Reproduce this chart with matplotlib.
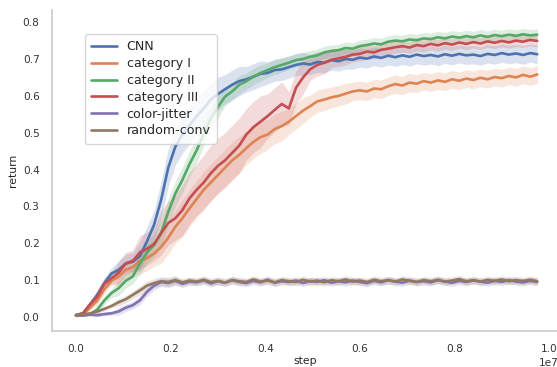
import numpy as np
import matplotlib
matplotlib.use("Agg")
import matplotlib.pyplot as plt
import seaborn as sns

sns.set_theme(style="white")
plt.rcParams['font.family'] = ['DejaVu Sans']

# environment steps (x grid, step 1.5e5)
steps = np.linspace(0, 9.75e6, 66)

cnn = [0.005, 0.010, 0.035, 0.060, 0.092, 0.118, 0.128, 0.145, 0.150, 0.165,
       0.205, 0.250, 0.318, 0.405, 0.462, 0.495, 0.520, 0.545, 0.566, 0.590,
       0.605, 0.618, 0.630, 0.640, 0.645, 0.652, 0.660, 0.662, 0.670, 0.672,
       0.678, 0.684, 0.688, 0.685, 0.692, 0.690, 0.697, 0.694, 0.700, 0.698,
       0.704, 0.701, 0.707, 0.703, 0.709, 0.705, 0.710, 0.706, 0.712, 0.708,
       0.711, 0.707, 0.713, 0.709, 0.714, 0.710, 0.712, 0.708, 0.714, 0.711,
       0.716, 0.712, 0.715, 0.711, 0.716, 0.713]
cat1 = [0.005, 0.008, 0.025, 0.045, 0.075, 0.098, 0.110, 0.128, 0.135, 0.152,
        0.160, 0.172, 0.190, 0.215, 0.245, 0.268, 0.295, 0.320, 0.345, 0.365,
        0.385, 0.405, 0.425, 0.440, 0.458, 0.475, 0.488, 0.495, 0.510, 0.518,
        0.530, 0.545, 0.560, 0.572, 0.585, 0.590, 0.596, 0.600, 0.606, 0.612,
        0.615, 0.612, 0.620, 0.618, 0.626, 0.632, 0.628, 0.636, 0.633, 0.640,
        0.636, 0.642, 0.638, 0.645, 0.641, 0.647, 0.643, 0.649, 0.645, 0.651,
        0.648, 0.654, 0.650, 0.657, 0.652, 0.658]
cat2 = [0.005, 0.005, 0.008, 0.020, 0.045, 0.065, 0.078, 0.098, 0.110, 0.145,
        0.175, 0.195, 0.228, 0.285, 0.335, 0.372, 0.415, 0.452, 0.496, 0.538,
        0.570, 0.598, 0.612, 0.630, 0.640, 0.652, 0.662, 0.670, 0.678, 0.684,
        0.690, 0.697, 0.700, 0.706, 0.710, 0.718, 0.722, 0.724, 0.730, 0.728,
        0.735, 0.738, 0.742, 0.740, 0.747, 0.750, 0.748, 0.753, 0.751, 0.756,
        0.754, 0.759, 0.756, 0.761, 0.758, 0.762, 0.759, 0.764, 0.760, 0.765,
        0.762, 0.766, 0.763, 0.767, 0.764, 0.766]
cat3 = [0.005, 0.010, 0.035, 0.055, 0.090, 0.105, 0.120, 0.145, 0.152, 0.175,
        0.185, 0.198, 0.228, 0.255, 0.268, 0.290, 0.322, 0.345, 0.365, 0.390,
        0.410, 0.425, 0.445, 0.465, 0.495, 0.515, 0.530, 0.545, 0.562, 0.578,
        0.566, 0.622, 0.650, 0.672, 0.684, 0.690, 0.698, 0.702, 0.706, 0.712,
        0.714, 0.720, 0.718, 0.725, 0.728, 0.732, 0.735, 0.731, 0.738, 0.735,
        0.741, 0.737, 0.743, 0.739, 0.745, 0.741, 0.746, 0.742, 0.748, 0.744,
        0.749, 0.745, 0.750, 0.747, 0.752, 0.749]
jitter = [0.005, 0.004, 0.006, 0.005, 0.008, 0.010, 0.015, 0.025, 0.032, 0.045,
          0.068, 0.085, 0.095, 0.092, 0.098, 0.090, 0.096, 0.094, 0.099, 0.091,
          0.097, 0.093, 0.100, 0.095, 0.092, 0.098, 0.094, 0.101, 0.093, 0.097,
          0.095, 0.099, 0.092, 0.098, 0.095, 0.100, 0.093, 0.097, 0.094, 0.099,
          0.095, 0.092, 0.098, 0.094, 0.100, 0.096, 0.093, 0.099, 0.095, 0.097,
          0.094, 0.100, 0.096, 0.093, 0.098, 0.095, 0.099, 0.096, 0.093, 0.098,
          0.095, 0.100, 0.096, 0.094, 0.098, 0.095]
randconv = [0.005, 0.007, 0.010, 0.015, 0.022, 0.030, 0.040, 0.048, 0.060, 0.072,
            0.085, 0.092, 0.097, 0.095, 0.100, 0.094, 0.099, 0.096, 0.101, 0.095,
            0.098, 0.093, 0.100, 0.097, 0.095, 0.102, 0.096, 0.099, 0.094, 0.100,
            0.097, 0.095, 0.101, 0.096, 0.099, 0.094, 0.100, 0.097, 0.102, 0.096,
            0.099, 0.095, 0.101, 0.097, 0.100, 0.096, 0.102, 0.098, 0.095, 0.100,
            0.097, 0.101, 0.096, 0.099, 0.103, 0.097, 0.100, 0.096, 0.101, 0.098,
            0.102, 0.097, 0.100, 0.098, 0.101, 0.097]

# band half-widths, read per block of three samples
cnn_sd = [0.005, 0.015, 0.025, 0.040, 0.050, 0.050, 0.045, 0.040, 0.035, 0.030, 0.030,
          0.028, 0.027, 0.026, 0.025, 0.025, 0.025, 0.025, 0.025, 0.025, 0.025, 0.025]
cat1_sd = [0.005, 0.012, 0.025, 0.035, 0.045, 0.050, 0.050, 0.050, 0.045, 0.040, 0.035,
           0.030, 0.028, 0.025, 0.025, 0.025, 0.024, 0.024, 0.024, 0.024, 0.024, 0.024]
cat2_sd = [0.004, 0.012, 0.020, 0.030, 0.035, 0.035, 0.030, 0.025, 0.022, 0.020, 0.018,
           0.017, 0.016, 0.016, 0.016, 0.016, 0.016, 0.016, 0.016, 0.016, 0.016, 0.016]
cat3_sd = [0.005, 0.015, 0.030, 0.045, 0.060, 0.070, 0.075, 0.075, 0.070, 0.060, 0.045,
           0.030, 0.022, 0.020, 0.018, 0.016, 0.016, 0.016, 0.016, 0.016, 0.016, 0.016]
jitter_sd = [0.002, 0.005, 0.010, 0.012, 0.012, 0.010, 0.010, 0.010, 0.010, 0.010, 0.010,
             0.010, 0.010, 0.010, 0.010, 0.010, 0.010, 0.010, 0.010, 0.010, 0.010, 0.010]
randconv_sd = [0.002, 0.005, 0.010, 0.012, 0.012, 0.010, 0.010, 0.010, 0.010, 0.010, 0.010,
               0.010, 0.010, 0.010, 0.010, 0.010, 0.010, 0.010, 0.010, 0.010, 0.010, 0.010]

labels = ["CNN", "category I", "category II", "category III", "color-jitter", "random-conv"]
series = [cnn, cat1, cat2, cat3, jitter, randconv]
sds = [cnn_sd, cat1_sd, cat2_sd, cat3_sd, jitter_sd, randconv_sd]
colors = sns.color_palette("deep", 6)

fig = plt.figure(figsize=(5.57, 3.67), dpi=100)
ax = fig.add_axes([52 / 557, 36 / 367, 507 / 557, 321 / 367])

for lab, y, sd, c in zip(labels, series, sds, colors):
    y = np.asarray(y)
    s = np.repeat(np.asarray(sd), 3)
    ax.fill_between(steps, y - s, y + s, color=c, alpha=0.2, linewidth=0)
    ax.plot(steps, y, color=c, lw=1.9, label=lab)

ax.set_xlim(-0.0507e7, 1.021e7)
ax.set_ylim(-0.038, 0.833)
ax.set_xticks([0, 0.2e7, 0.4e7, 0.6e7, 0.8e7, 1.0e7])
ax.set_yticks([0.0, 0.1, 0.2, 0.3, 0.4, 0.5, 0.6, 0.7, 0.8])
ax.tick_params(labelsize=7.6, colors='#333333', pad=3)
ax.xaxis.get_offset_text().set_fontsize(7.6)
ax.set_xlabel("step", fontsize=7.8, labelpad=2)
ax.set_ylabel("return", fontsize=7.8, labelpad=3)
for side in ["top", "right"]:
    ax.spines[side].set_visible(False)
for side in ["left", "bottom"]:
    ax.spines[side].set_color('#cccccc')

ax.legend(loc="upper left", bbox_to_anchor=(0.065, 0.925), fontsize=9.1,
          frameon=True, handlelength=2.0, borderpad=0.5, labelspacing=0.3,
          borderaxespad=0.0)

fig.savefig("out.png", dpi=100)
